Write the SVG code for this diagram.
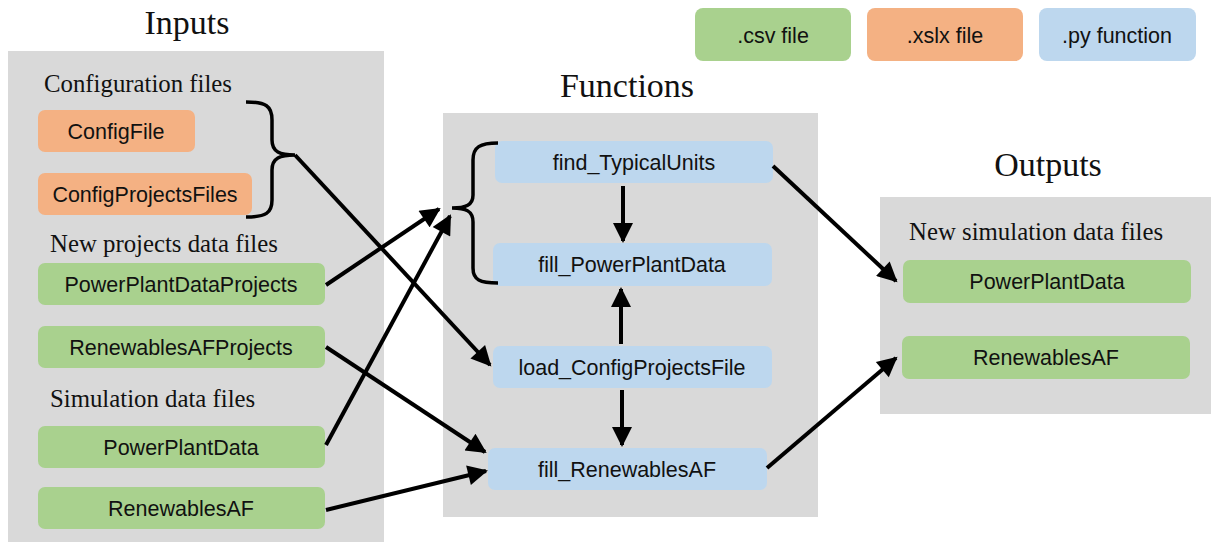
<svg xmlns="http://www.w3.org/2000/svg" width="1211" height="542" viewBox="0 0 1211 542">
<style>
.panel{fill:#D9D9D9}
.csv{fill:#A9D18E}
.xlsx{fill:#F4B183}
.py{fill:#BDD7EE}
.lbl{font-family:"Liberation Sans",Arial,sans-serif;font-size:21.5px;fill:#111;text-anchor:middle}
.hdr{font-family:"Liberation Serif","Times New Roman",serif;font-size:34px;fill:#111;text-anchor:middle}
.sub{font-family:"Liberation Serif","Times New Roman",serif;font-size:24.8px;fill:#111}
.ln{stroke:#000;stroke-width:4;fill:none}
.br{stroke:#000;stroke-width:3.5;fill:none}
</style>
<defs>
<marker id="ah" viewBox="0 0 10 10" refX="9" refY="5" markerWidth="5.5" markerHeight="5" orient="auto" markerUnits="strokeWidth">
<path d="M0,0 L10,5 L0,10 z" fill="#000"/>
</marker>
</defs>
<rect class="panel" x="8" y="51" width="376" height="491"/>
<rect class="panel" x="443" y="113" width="375" height="404"/>
<rect class="panel" x="880" y="197" width="331" height="217"/>
<text class="hdr" x="187" y="34">Inputs</text>
<text class="hdr" x="627" y="97">Functions</text>
<text class="hdr" x="1048" y="176">Outputs</text>
<text class="sub" x="44" y="92">Configuration files</text>
<text class="sub" x="50" y="252">New projects data files</text>
<text class="sub" x="50" y="407">Simulation data files</text>
<text class="sub" x="909" y="240">New simulation data files</text>
<g id="legend-csv"><rect class="csv" x="695" y="8" width="156" height="53" rx="8"/><text class="lbl" x="773" y="43">.csv file</text></g>
<g id="legend-xlsx"><rect class="xlsx" x="867" y="8" width="156" height="53" rx="8"/><text class="lbl" x="945" y="43">.xslx file</text></g>
<g id="legend-py"><rect class="py" x="1039" y="8" width="157" height="53" rx="8"/><text class="lbl" x="1117" y="43">.py function</text></g>
<g id="ConfigFile"><rect class="xlsx" x="38" y="110" width="157" height="42" rx="7"/><text class="lbl" x="116" y="139">ConfigFile</text></g>
<g id="ConfigProjectsFiles"><rect class="xlsx" x="38" y="173" width="214" height="42" rx="7"/><text class="lbl" x="145" y="202">ConfigProjectsFiles</text></g>
<g id="PowerPlantDataProjects"><rect class="csv" x="38" y="263" width="287" height="42" rx="7"/><text class="lbl" x="181" y="292">PowerPlantDataProjects</text></g>
<g id="RenewablesAFProjects"><rect class="csv" x="38" y="326" width="287" height="42" rx="7"/><text class="lbl" x="181" y="355">RenewablesAFProjects</text></g>
<g id="PowerPlantData-in"><rect class="csv" x="38" y="426" width="287" height="42" rx="7"/><text class="lbl" x="181" y="455">PowerPlantData</text></g>
<g id="RenewablesAF-in"><rect class="csv" x="38" y="487" width="287" height="42" rx="7"/><text class="lbl" x="181" y="516">RenewablesAF</text></g>
<g id="find_TypicalUnits"><rect class="py" x="495" y="141" width="278" height="42" rx="7"/><text class="lbl" x="634" y="170">find_TypicalUnits</text></g>
<g id="fill_PowerPlantData"><rect class="py" x="493" y="243" width="279" height="43" rx="7"/><text class="lbl" x="632" y="272">fill_PowerPlantData</text></g>
<g id="load_ConfigProjectsFile"><rect class="py" x="493" y="346" width="279" height="42" rx="7"/><text class="lbl" x="632" y="375">load_ConfigProjectsFile</text></g>
<g id="fill_RenewablesAF"><rect class="py" x="488" y="448" width="279" height="42" rx="7"/><text class="lbl" x="627" y="477">fill_RenewablesAF</text></g>
<g id="PowerPlantData-out"><rect class="csv" x="903" y="260" width="288" height="43" rx="7"/><text class="lbl" x="1047" y="289">PowerPlantData</text></g>
<g id="RenewablesAF-out"><rect class="csv" x="902" y="336" width="288" height="43" rx="7"/><text class="lbl" x="1046" y="365">RenewablesAF</text></g>
<g id="connectors">
<path class="br" d="M246,102 C266,102 272,106 272,120 L272,140 C272,152 280,155 295,155 C280,155 272,158 272,170 L272,200 C272,213 266,217 246,217"/>
<path class="br" d="M498,143 C480,143 473,147 473,160 L473,195 C473,205 466,208 452,208 C466,208 473,211 473,222 L473,268 C473,280 480,283 498,283"/>
<line class="ln" x1="295" y1="155" x2="490" y2="365" marker-end="url(#ah)"/>
<line class="ln" x1="326" y1="285" x2="439" y2="209" marker-end="url(#ah)"/>
<line class="ln" x1="326" y1="445" x2="450" y2="216" marker-end="url(#ah)"/>
<line class="ln" x1="326" y1="347" x2="485" y2="452" marker-end="url(#ah)"/>
<line class="ln" x1="326" y1="510" x2="486" y2="471" marker-end="url(#ah)"/>
<line class="ln" x1="773" y1="166" x2="896" y2="281" marker-end="url(#ah)"/>
<line class="ln" x1="767" y1="468" x2="896" y2="358" marker-end="url(#ah)"/>
<line class="ln" x1="623" y1="186" x2="623" y2="241" marker-end="url(#ah)"/>
<line class="ln" x1="621" y1="344" x2="621" y2="289" marker-end="url(#ah)"/>
<line class="ln" x1="622" y1="390" x2="622" y2="445" marker-end="url(#ah)"/>
</g>
</svg>
